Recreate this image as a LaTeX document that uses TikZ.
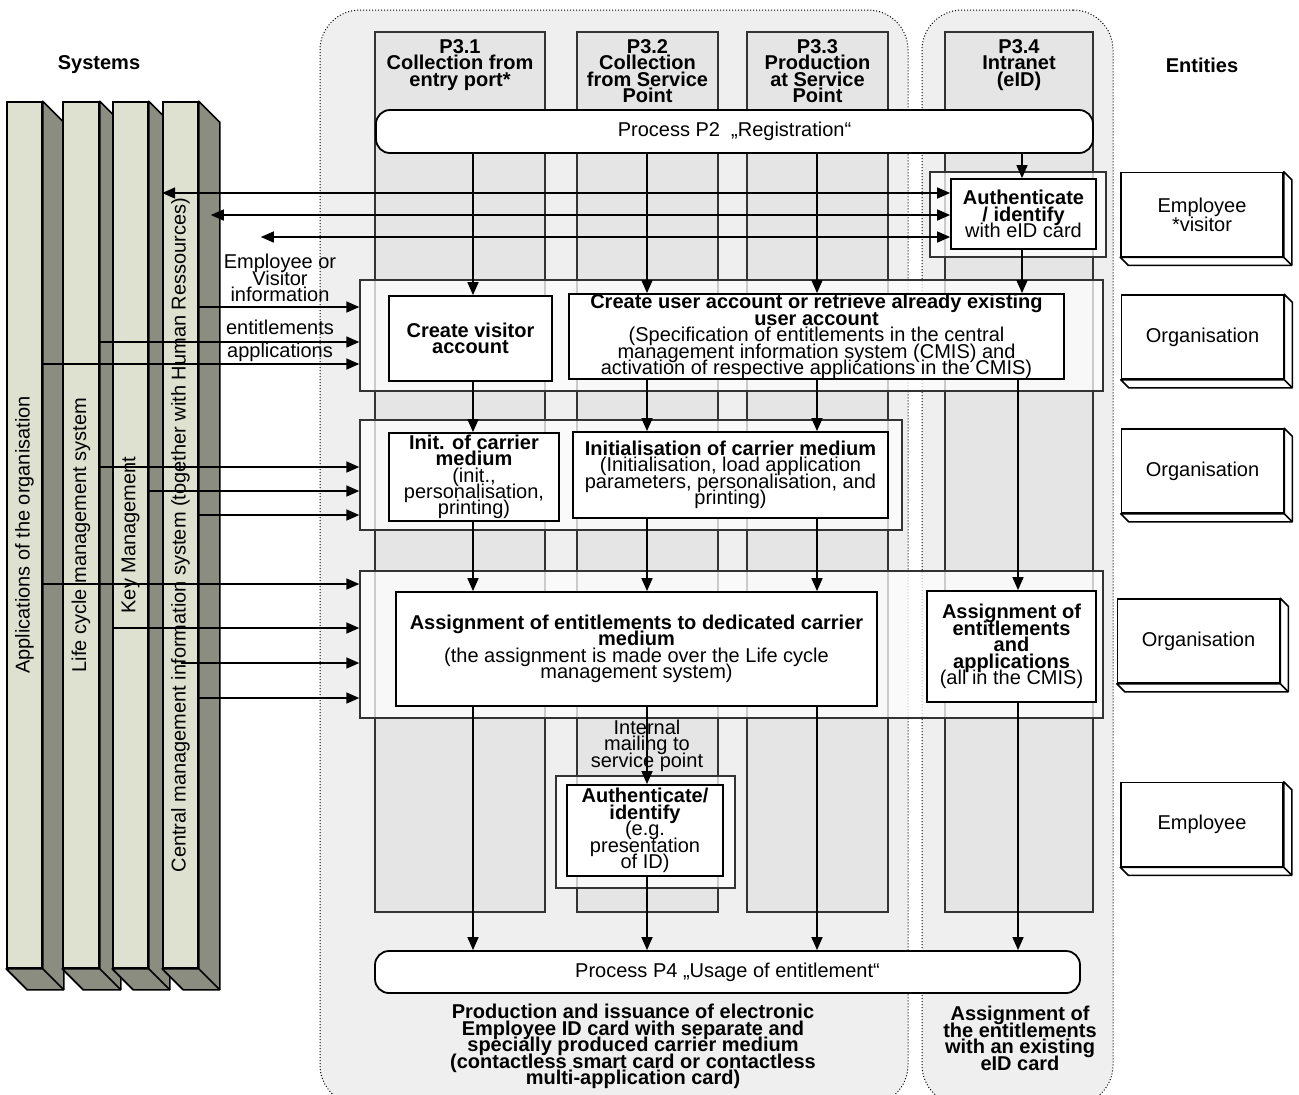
\documentclass[tikz,border=0pt]{standalone}
\usepackage{fontspec}
\setmainfont{Liberation Sans}
\usepackage{graphicx}
\usepackage{xcolor}
\usetikzlibrary{arrows.meta, calc}
\definecolor{barfront}{RGB}{222,225,207}
\definecolor{barside}{RGB}{138,141,128}
\definecolor{areagray}{RGB}{239,239,239}
\definecolor{lanegray}{RGB}{229,229,229}
\definecolor{framegray}{RGB}{51,51,51}
\newcommand{\figfont}{\fontsize{10}{8.2}\selectfont\lineskiplimit=-10pt}
\tikzstyle{area} = [rectangle, rounded corners=20pt,
draw=black, 
densely dotted, 
line width=0.5pt,
fill=areagray]
\tikzstyle{lane} = [rectangle, 
minimum height=440pt,
draw=framegray, 
line width=0.7pt,
fill=lanegray]
\tikzstyle{lanehead} = [anchor=north, 
align=center, 
inner sep=0pt,
font=\figfont\bfseries]
\tikzstyle{process} = [rectangle, rounded corners=7pt,
draw=black, 
line width=0.9pt,
fill=white]
\tikzstyle{rowframe} = [rectangle, 
draw=framegray, 
line width=0.7pt,
fill=white, fill opacity=0.75]
\tikzstyle{task} = [rectangle, 
align=center, 
inner xsep=2pt, inner ysep=0pt,
draw=black, 
line width=0.9pt,
fill=white]
\tikzstyle{entity} = [rectangle, 
minimum width=81pt, 
minimum height=42pt,
align=center, 
font=\fontsize{10}{9.5}\selectfont,
draw=black, 
line width=0.8pt,
fill=white]
\tikzstyle{sysbar} = [rectangle, 
minimum width=17.5pt, 
minimum height=433pt,
inner sep=0pt,
draw=black, 
line width=0.8pt,
fill=barfront]
\tikzstyle{sysside} = [draw=black, line width=0.8pt, fill=barside, line join=round]
\tikzstyle{boxside} = [draw=black, line width=0.8pt, fill=white, line join=round]
\tikzstyle{heading} = [font=\figfont\bfseries, align=center]
\tikzstyle{note} = [align=center, inner sep=0pt]
\tikzstyle{arrow} = [line width=0.8pt, -{Triangle[length=6.5pt,width=5.5pt]}]
\tikzstyle{biarrow} = [line width=0.8pt, {Triangle[length=6.5pt,width=5.5pt]}-{Triangle[length=6.5pt,width=5.5pt]}]

\begin{document}
\begin{tikzpicture}[x=0.5pt, y=-0.5pt, font=\figfont]
\useasboundingbox (0,0) rectangle (1299,1094);

\node (prodarea) [area, minimum width=294pt, minimum height=547.5pt] at (614,557.5) {};
\node (intraarea) [area, minimum width=95.5pt, minimum height=547.5pt] at (1017.5,557.5) {};

\node (lane1) [lane, minimum width=85pt] at (460,472) {};
\node (lane2) [lane, minimum width=70.5pt] at (647.5,472) {};
\node (lane3) [lane, minimum width=70.5pt] at (817.5,472) {};
\node (lane4) [lane, minimum width=74pt] at (1019,472) {};

\node (head1) [lanehead] at (460,39) {P3.1\\Collection from\\entry port*};
\node (head2) [lanehead] at (647.5,39) {P3.2\\Collection\\from Service\\Point};
\node (head3) [lanehead] at (817.5,39) {P3.3\\Production\\at Service\\Point};
\node (head4) [lanehead] at (1019,39) {P3.4\\Intranet\\(eID)};

\node (p2) [process, minimum width=358.5pt, minimum height=21.5pt] at (734.5,131.5) {Process P2\ \ „Registration“};
\node (p4) [process, minimum width=352.5pt, minimum height=21pt] at (727.5,972) {Process P4 „Usage of entitlement“};

\node (authframe) [rowframe, minimum width=88pt, minimum height=42.5pt] at (1018,214.5) {};
\node (row1) [rowframe, minimum width=371.5pt, minimum height=55.5pt] at (731.5,335.5) {};
\node (row2) [rowframe, minimum width=271pt, minimum height=55pt] at (631,475) {};
\node (row3) [rowframe, minimum width=371.5pt, minimum height=73.5pt] at (731.5,644.5) {};
\node (checkframe) [rowframe, minimum width=89.5pt, minimum height=56pt] at (645.5,832) {};

\node (authin) [task, minimum width=72.5pt, minimum height=35pt] at (1023.5,214) {\textbf{Authenticate}\\\textbf{/ identify}\\with eID card};
\node (visitor) [task, minimum width=81.5pt, minimum height=42.5pt] at (470.5,338.5) {\textbf{Create visitor}\\\textbf{account}};
\node (useracc) [task, minimum width=247.5pt, minimum height=42.5pt] at (816.5,336.5) {\textbf{Create user account or retrieve already existing}\\\textbf{user account}\\(Specification of entitlements in the central\\management information system (CMIS) and\\activation of respective applications in the CMIS)};
\node (inita) [task, minimum width=85pt, minimum height=44pt] at (474,477) {\textbf{Init. of carrier}\\\textbf{medium}\\(init.,\\personalisation,\\printing)};
\node (initb) [task, minimum width=157.5pt, minimum height=43pt] at (730.5,475) {\textbf{Initialisation of carrier medium}\\(Initialisation, load application\\parameters, personalisation, and\\printing)};
\node (assigna) [task, minimum width=240.5pt, minimum height=57pt] at (636.5,649) {\textbf{Assignment of entitlements to dedicated carrier}\\\textbf{medium}\\(the assignment is made over the Life cycle\\management system)};
\node (assignb) [task, minimum width=84.5pt, minimum height=55.5pt] at (1011.5,646.5) {\textbf{Assignment of}\\\textbf{entitlements}\\\textbf{and}\\\textbf{applications}\\(all in the CMIS)};
\node (checkin) [task, minimum width=78pt, minimum height=45.5pt] at (645,830.5) {\textbf{Authenticate/}\\\textbf{identify}\\(e.g.\\presentation\\of ID)};

% systems
\node (apps) [sysbar] at (24.5,535) {\rotatebox{90}{Applications of the organisation}};
\draw [sysside] (apps.north east) -- ++(21,21) -- ($(apps.south east)+(21,21)$) -- ($(apps.south west)+(21,21)$) -- (apps.south west) -- (apps.south east) -- cycle;
\draw [sysside] (apps.south east) -- ++(21,21);
\node (lcm) [sysbar, minimum width=18pt] at (81,535) {\rotatebox{90}{Life cycle management system}};
\draw [sysside] (lcm.north east) -- ++(21,21) -- ($(lcm.south east)+(21,21)$) -- ($(lcm.south west)+(21,21)$) -- (lcm.south west) -- (lcm.south east) -- cycle;
\draw [sysside] (lcm.south east) -- ++(21,21);
\node (keym) [sysbar] at (130.5,535) {\rotatebox{90}{Key Management}};
\draw [sysside] (keym.north east) -- ++(21,21) -- ($(keym.south east)+(21,21)$) -- ($(keym.south west)+(21,21)$) -- (keym.south west) -- (keym.south east) -- cycle;
\draw [sysside] (keym.south east) -- ++(21,21);
\node (cmis) [sysbar] at (180.5,535) {\rotatebox{90}{Central management information system (together with Human Ressources)}};
\draw [sysside] (cmis.north east) -- ++(21,21) -- ($(cmis.south east)+(21,21)$) -- ($(cmis.south west)+(21,21)$) -- (cmis.south west) -- (cmis.south east) -- cycle;
\draw [sysside] (cmis.south east) -- ++(21,21);

% entities
\node (ent1) [entity] at (1202,214.5) {Employee\\*visitor};
\draw [boxside] (ent1.north east) -- ++(8,8) -- ($(ent1.south east)+(8,8)$) -- ($(ent1.south west)+(8,8)$) -- (ent1.south west) -- (ent1.south east) -- cycle;
\draw [boxside] (ent1.south east) -- ++(8,8);
\node (ent2) [entity] at (1202.5,337) {Organisation};
\draw [boxside] (ent2.north east) -- ++(8,8) -- ($(ent2.south east)+(8,8)$) -- ($(ent2.south west)+(8,8)$) -- (ent2.south west) -- (ent2.south east) -- cycle;
\draw [boxside] (ent2.south east) -- ++(8,8);
\node (ent3) [entity] at (1202.5,471) {Organisation};
\draw [boxside] (ent3.north east) -- ++(8,8) -- ($(ent3.south east)+(8,8)$) -- ($(ent3.south west)+(8,8)$) -- (ent3.south west) -- (ent3.south east) -- cycle;
\draw [boxside] (ent3.south east) -- ++(8,8);
\node (ent4) [entity] at (1198.5,641) {Organisation};
\draw [boxside] (ent4.north east) -- ++(8,8) -- ($(ent4.south east)+(8,8)$) -- ($(ent4.south west)+(8,8)$) -- (ent4.south west) -- (ent4.south east) -- cycle;
\draw [boxside] (ent4.south east) -- ++(8,8);
\node (ent5) [entity] at (1202,824.5) {Employee};
\draw [boxside] (ent5.north east) -- ++(8,8) -- ($(ent5.south east)+(8,8)$) -- ($(ent5.south west)+(8,8)$) -- (ent5.south west) -- (ent5.south east) -- cycle;
\draw [boxside] (ent5.south east) -- ++(8,8);

\node (systitle) [heading] at (99,65) {Systems};
\node (enttitle) [heading] at (1202,65) {Entities};

\node (infonote) [note, anchor=north] at (280,254) {Employee or\\Visitor\\information};
\node (entnote) [note] at (280,327) {entitlements};
\node (appnote) [note] at (280,352) {applications};
\node (prodnote) [note, anchor=north, font=\figfont\bfseries] at (633,1004) {Production and issuance of electronic\\Employee ID card with separate and\\specially produced carrier medium\\(contactless smart card or contactless\\multi-application card)};
\node (intranote) [note, anchor=north, font=\figfont\bfseries] at (1020,1006) {Assignment of\\the entitlements\\with an existing\\eID card};

\coordinate (c1) at (473,0);
\coordinate (c2) at (647,0);
\coordinate (c3) at (817,0);
\coordinate (c4) at (1022,0);
\coordinate (c5) at (1018,0);

\draw [arrow] (p2.south -| c1) -- (visitor.north -| c1);
\draw [arrow] (p2.south -| c2) -- (useracc.north -| c2);
\draw [arrow] (p2.south -| c3) -- (useracc.north -| c3);
\draw [arrow] (p2.south -| c4) -- (authin.north -| c4);
\draw [arrow] (authin.south -| c4) -- (useracc.north -| c4);
\draw [arrow] (visitor.south -| c1) -- (inita.north -| c1);
\draw [arrow] (useracc.south -| c2) -- (initb.north -| c2);
\draw [arrow] (useracc.south -| c3) -- (initb.north -| c3);
\draw [arrow] (useracc.south -| c5) -- (assignb.north -| c5);
\draw [arrow] (inita.south -| c1) -- (assigna.north -| c1);
\draw [arrow] (initb.south -| c2) -- (assigna.north -| c2);
\draw [arrow] (initb.south -| c3) -- (assigna.north -| c3);
\draw [arrow] (assigna.south -| c2) -- node[note] (mailnote) {Internal\\mailing to\\service point} (checkin.north -| c2);
\draw [arrow] (assigna.south -| c1) -- (p4.north -| c1);
\draw [arrow] (checkin.south -| c2) -- (p4.north -| c2);
\draw [arrow] (assigna.south -| c3) -- (p4.north -| c3);
\draw [arrow] (assignb.south -| c5) -- (p4.north -| c5);

\draw [biarrow] (authin.west |- 0,193) -- (cmis.west |- 0,193);
\draw [biarrow] (authin.west |- 0,215) -- ($(cmis.east |- 0,215)+(12,0)$);
\draw [biarrow] (authin.west |- 0,237) -- ($(cmis.east |- 0,237)+(62,0)$);

\draw [arrow] (cmis.east |- 0,307) -- (row1.west |- 0,307);
\draw [arrow] (lcm.east |- 0,342) -- (row1.west |- 0,342);
\draw [arrow] (apps.east |- 0,364) -- (row1.west |- 0,364);
\draw [arrow] (lcm.east |- 0,467) -- (row2.west |- 0,467);
\draw [arrow] (keym.east |- 0,491) -- (row2.west |- 0,491);
\draw [arrow] (cmis.east |- 0,515) -- (row2.west |- 0,515);
\draw [arrow] (apps.east |- 0,584) -- (row3.west |- 0,584);
\draw [arrow] (keym.west |- 0,628) -- (row3.west |- 0,628);
\draw [arrow] (cmis.center |- 0,663) -- (row3.west |- 0,663);
\draw [arrow] (cmis.east |- 0,698) -- (row3.west |- 0,698);

\end{tikzpicture}
\end{document}
